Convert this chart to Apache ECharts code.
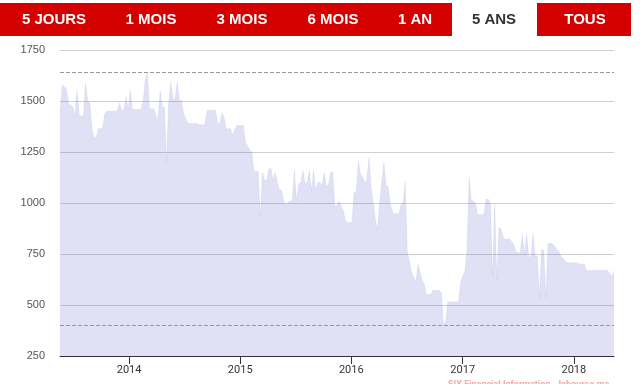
<!DOCTYPE html>
<html><head><meta charset="utf-8">
<script src="https://cdn.jsdelivr.net/npm/echarts@6/dist/echarts.min.js"></script>
<style>html,body{margin:0;padding:0;background:#fff}#c{width:640px;height:384px}</style>
</head><body><div id="c"></div>
<script>
// ---- data ----
const startDate = '2013-05-19';   // first weekly sample
const stepDays = 7;               // weekly samples
const prices = [
  1440,1580,1570,1560,1485,1480,1470,1430,1550,1430,
  1425,1425,1590,1500,1490,1360,1325,1320,1364,1364,
  1370,1437,1450,1450,1450,1450,1450,1455,1490,1455,
  1455,1520,1460,1555,1460,1458,1458,1458,1458,1500,
  1600,1642,1460,1462,1462,1430,1405,1552,1470,1470,
  1200,1490,1594,1510,1510,1594,1503,1503,1440,1413,
  1390,1390,1390,1390,1390,1385,1383,1383,1383,1454,
  1454,1454,1454,1454,1390,1390,1440,1420,1364,1364,
  1364,1330,1360,1380,1380,1380,1380,1300,1280,1260,
  1250,1155,1155,1155,930,1150,1110,1110,1165,1170,
  1110,1150,1100,1065,1063,1010,990,1003,1010,1010,
  1162,1010,1096,1096,1160,1096,1096,1160,1060,1160,
  1060,1100,1100,1085,1150,1085,1085,1150,1150,980,
  990,1010,980,962,910,904,904,904,1050,1052,
  1207,1142,1130,1100,1110,1224,1080,1000,920,866,
  1000,1100,1200,1090,1080,995,960,945,950,945,
  990,1000,1104,760,716,660,640,610,700,660,
  620,600,551,551,551,571,571,571,571,560,
  402,420,515,515,515,515,515,515,609,640,
  666,765,1126,1011,1011,1000,942,942,942,942,
  1018,1018,1000,640,1000,620,880,871,830,822,
  822,822,810,797,760,756,756,845,750,845,
  735,735,847,740,740,535,770,770,535,801,
  801,801,790,775,765,740,730,715,707,707,
  707,707,705,705,700,700,700,669,669,669,
  669,669,669,669,669,669,669,669,655,640,
  665
];
const yTicks = [250, 500, 750, 1000, 1250, 1500, 1750];
const buttonLabels = ['5 JOURS','1 MOIS','3 MOIS','6 MOIS','1 AN','5 ANS','TOUS'];
const activeLabel = '5 ANS';
const watermark = 'SIX Financial Information - Inbourse.ma';

// ---- layout / style ----
const buttonCenters = [54,151,242,333,415,494,585];
const RED = '#d40000';
const DAY = 86400000;
const t0 = Date.parse(startDate + 'T00:00:00Z');
const seriesData = prices.map((v, i) => [t0 + i * stepDays * DAY, v]);
const tEnd = t0 + (prices.length - 1) * stepDays * DAY;

const graphics = [
  {type:'rect', shape:{x:0, y:3, width:452, height:33}, style:{fill:RED}, silent:true},
  {type:'rect', shape:{x:537, y:3, width:94, height:33}, style:{fill:RED}, silent:true}
];
buttonLabels.forEach((lab, k) => {
  graphics.push({
    type:'text', x: buttonCenters[k], y: 20, silent:true,
    style:{text: lab, fill: lab === activeLabel ? '#333333' : '#ffffff',
      font: 'bold 15px "Liberation Sans", Arial, sans-serif', align:'center', verticalAlign:'middle'}
  });
});
graphics.push({
  type:'text', x: 448, y: 385, silent:true,
  style:{text: watermark, fill:'#f5a8a8', font:'bold 9px Roboto, Arial, sans-serif', align:'left', verticalAlign:'middle'}
});

const chart = echarts.init(document.getElementById('c'), null, {renderer:'canvas'});
chart.setOption({
  animation: false,
  grid: {left: 60, right: 26, top: 50, bottom: 28, containLabel: false},
  xAxis: {
    type: 'time', min: t0, max: tEnd,
    minInterval: 365 * DAY, maxInterval: 366 * DAY,
    axisLine: {show: true, lineStyle: {color: '#333', width: 1}},
    axisTick: {show: true, length: 8, lineStyle: {color: '#333'}},
    axisLabel: {color: '#333', fontSize: 11, fontFamily: 'Roboto, Arial, sans-serif', margin: 9,
      formatter: '{yyyy}'},
    splitLine: {show: false}
  },
  yAxis: {
    type: 'value', min: yTicks[0], max: yTicks[yTicks.length - 1], interval: yTicks[1] - yTicks[0],
    axisLine: {show: false}, axisTick: {show: false},
    axisLabel: {color: '#555', fontSize: 11, fontFamily: '"Liberation Sans", Arial, sans-serif', margin: 15,
      formatter: v => String(v)},
    splitLine: {lineStyle: {color: '#cfcfcf', width: 1}}
  },
  series: [{
    type: 'line', data: seriesData, showSymbol: false, symbol: 'none',
    lineStyle: {width: 1, color: 'rgba(120,120,210,0.10)'},
    areaStyle: {color: 'rgb(120,120,210)', opacity: 0.22},
    markLine: {
      silent: true, symbol: ['none','none'], label: {show: false},
      lineStyle: {type: 'dashed', color: '#999', width: 1},
      data: [{type: 'max'}, {type: 'min'}]
    }
  }],
  graphic: graphics
});
</script>
</body></html>
